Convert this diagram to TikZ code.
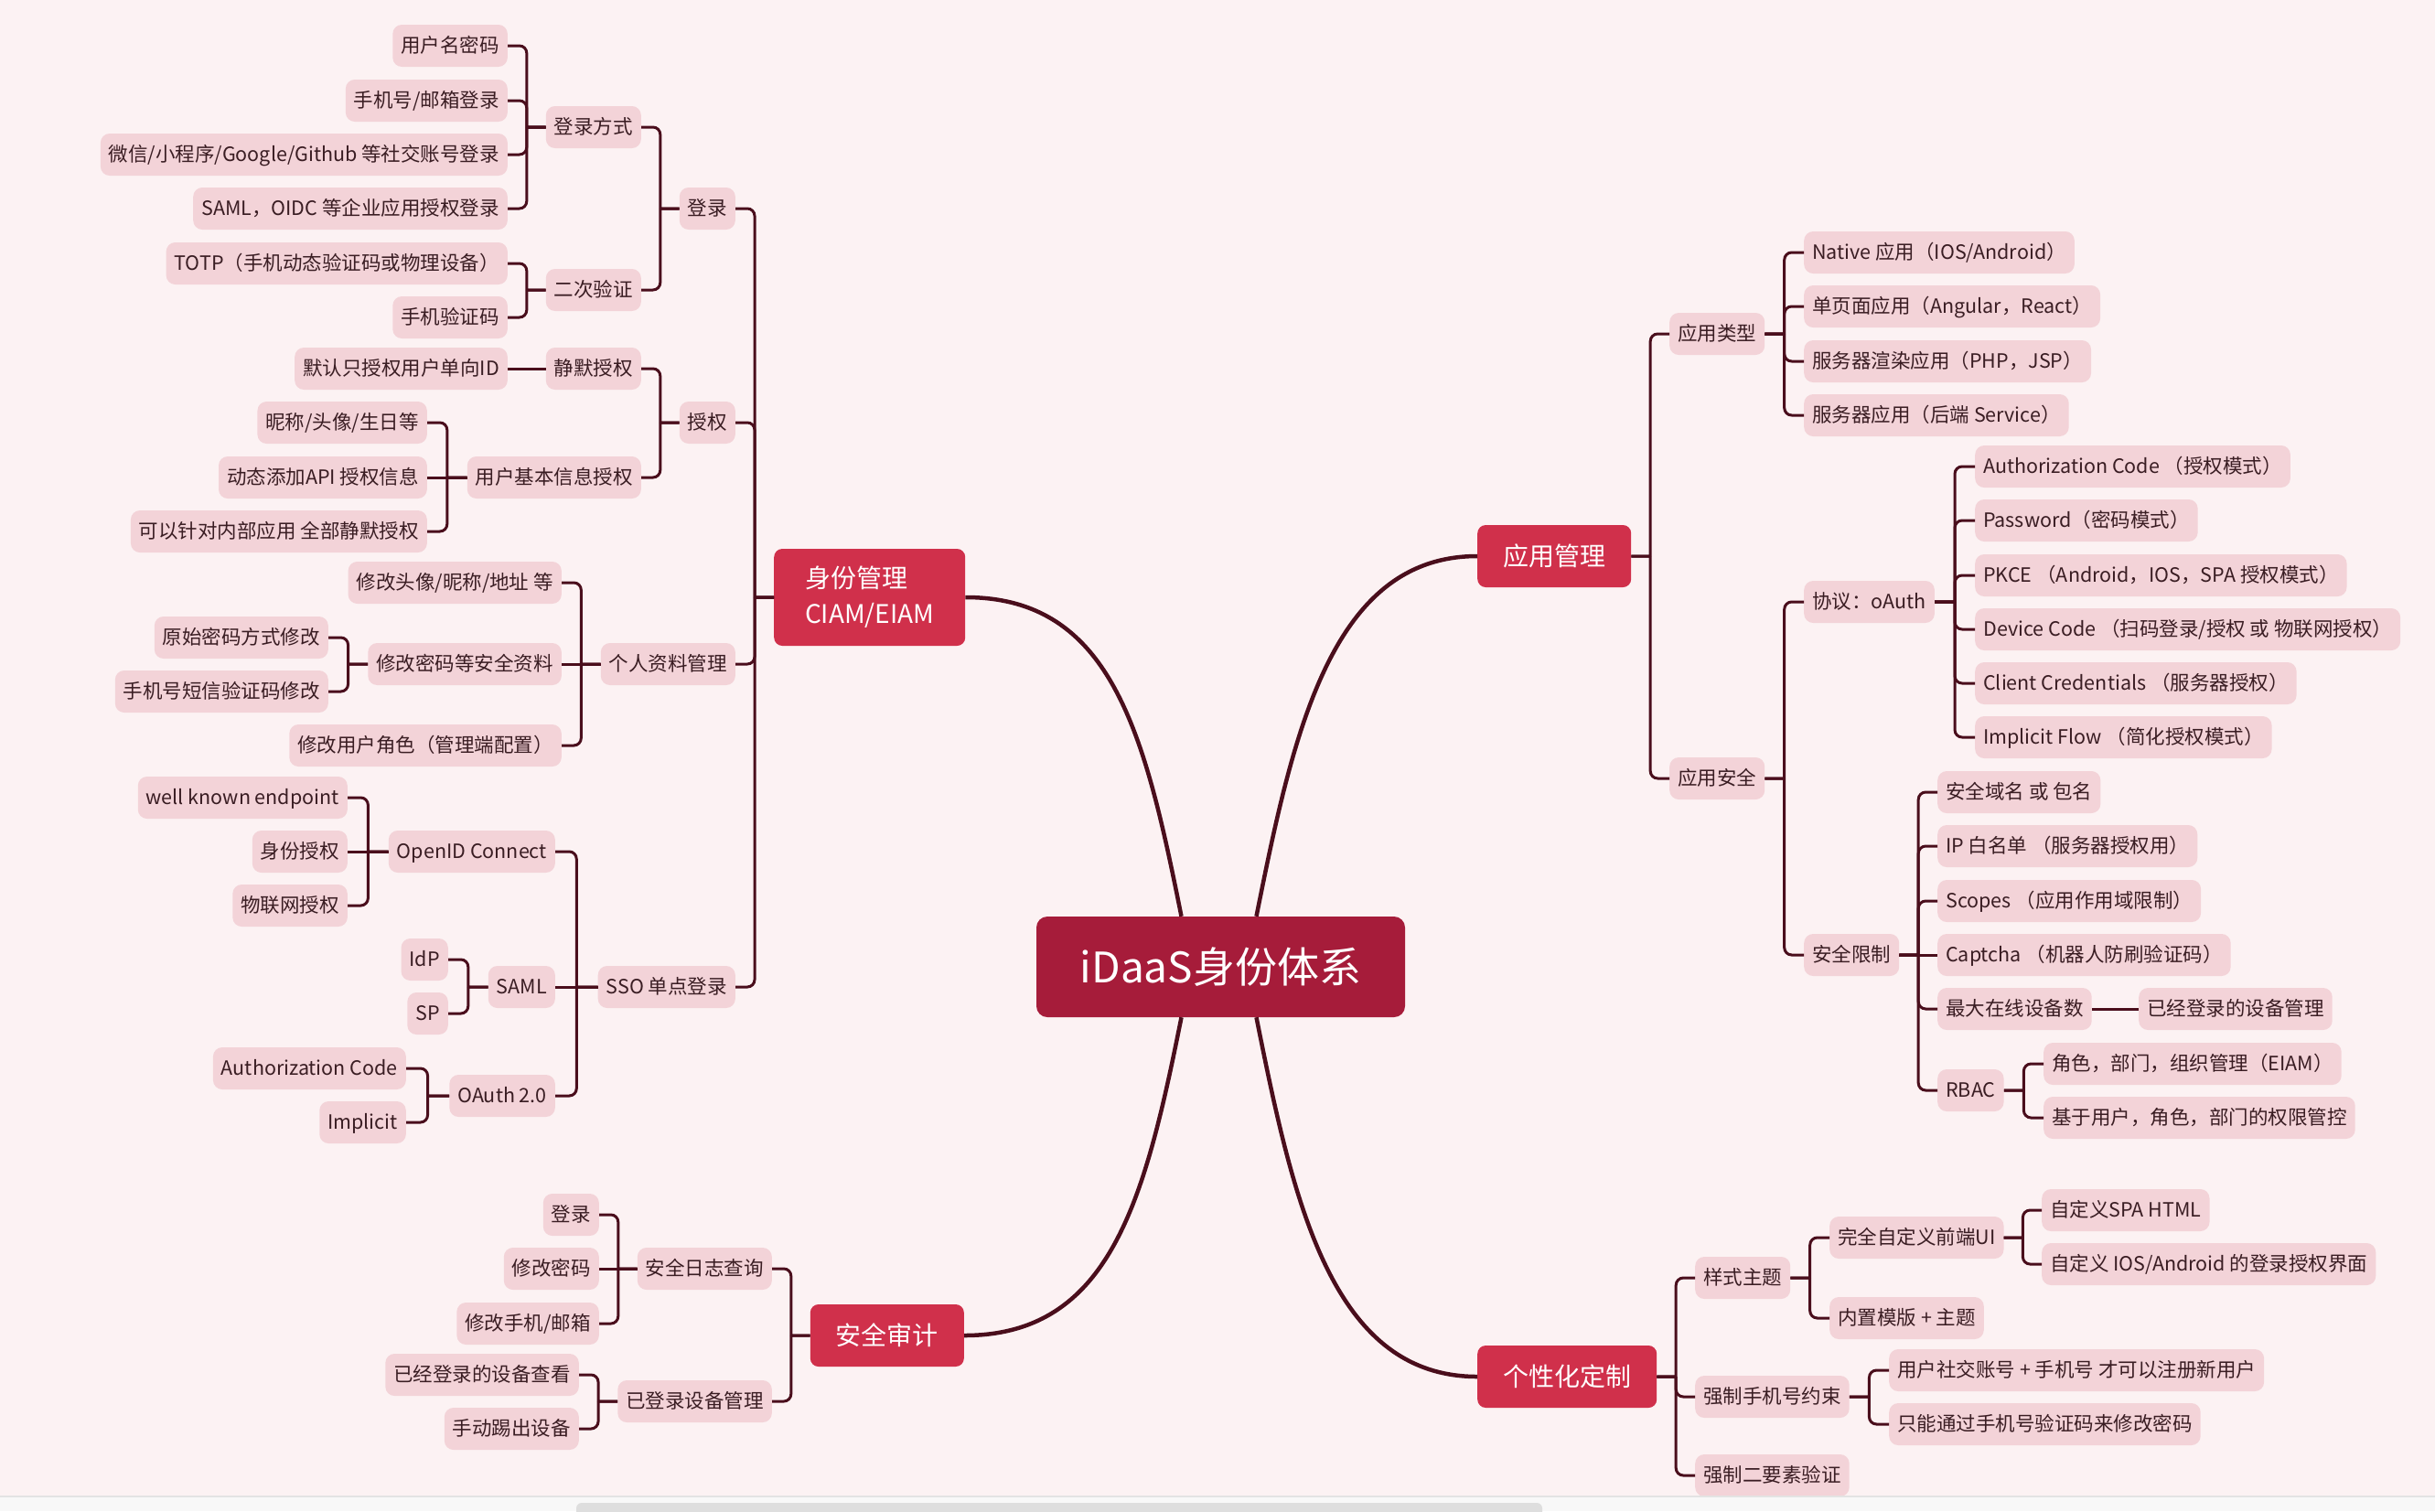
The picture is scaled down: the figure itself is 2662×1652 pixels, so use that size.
\documentclass[tikz,border=0pt]{standalone}
\usepackage{fontspec}
\setmainfont{Noto Sans CJK SC}
\usetikzlibrary{calc}

\definecolor{pagebg}{HTML}{FCF2F3}
\definecolor{leafpink}{HTML}{F3D3D8}
\definecolor{topicred}{HTML}{D0304B}
\definecolor{corered}{HTML}{A61C3A}
\definecolor{linedark}{HTML}{4A0E1C}
\definecolor{inkdark}{HTML}{3A1D23}
\definecolor{barbg}{HTML}{F8F8F8}
\definecolor{barline}{HTML}{E3E3E3}
\definecolor{barthumb}{HTML}{DEDEDE}

\tikzset{
  leaf/.style={fill=leafpink, text=inkdark, rounded corners=10pt,
    minimum height=46pt, inner xsep=9pt, inner ysep=2pt,
    text height=18.5pt, text depth=3.5pt,
    font=\fontsize{21.5}{26}\selectfont},
  lleaf/.style={leaf, anchor=east},
  rleaf/.style={leaf, anchor=west},
  topic/.style={fill=topicred, text=white, rounded corners=9pt,
    minimum height=68pt, inner xsep=28pt,
    font=\fontsize{28}{39}\selectfont},
  core/.style={fill=corered, text=white, rounded corners=12pt,
    minimum width=403pt, minimum height=110pt,
    font=\fontsize{46}{55}\selectfont},
  br/.style={draw=linedark, line width=3pt},
  bough/.style={draw=linedark, line width=4.5pt},
}

% branch going left: parent #1, child #2
\newcommand\lk[2]{\draw[br] let \p1=(#1.west), \p2=(#2.east) in
  (\p1) -- ({(\x1+\x2)/2},\y1) [rounded corners=8pt] ({(\x1+\x2)/2},\y1)
  -- ({(\x1+\x2)/2},\y2) -- (\p2);}
% branch going right: parent #1, child #2
\newcommand\rk[2]{\draw[br] let \p1=(#1.east), \p2=(#2.west) in
  (\p1) -- ({(\x1+\x2)/2},\y1) [rounded corners=8pt] ({(\x1+\x2)/2},\y1)
  -- ({(\x1+\x2)/2},\y2) -- (\p2);}

\begin{document}
\begin{tikzpicture}[x=1pt, y=-1pt]
  \useasboundingbox (0,0) rectangle (2662,1652);
  \fill[pagebg] (0,0) rectangle (2662,1652);

  % centre and the four topics
  \node[core] (core) at (1334.5,1057) {iDaaS身份体系};
  \node[topic, align=left, minimum width=209pt, minimum height=106pt, anchor=west] (id) at (846,653) {身份管理\\CIAM/EIAM};
  \node[topic, anchor=east] (aud) at (1054,1460) {安全审计};
  \node[topic, anchor=west] (app) at (1615,608) {应用管理};
  \node[topic, anchor=west] (ui) at (1615,1505) {个性化定制};

  % 1. 身份管理
  \node[lleaf] (login) at (804,228) {登录};
  \node[lleaf] (lway) at (701,139) {登录方式};
  \node[lleaf] (pwd) at (555,50) {用户名密码};
  \node[lleaf] (mail) at (555,110) {手机号/邮箱登录};
  \node[lleaf] (social) at (555,169) {微信/小程序/Google/Github 等社交账号登录};
  \node[lleaf] (ent) at (555,228) {SAML，OIDC 等企业应用授权登录};
  \node[lleaf] (mfa) at (701,317) {二次验证};
  \node[lleaf] (totp) at (555,288) {TOTP（手机动态验证码或物理设备）};
  \node[lleaf] (sms) at (555,347) {手机验证码};

  \node[lleaf] (auth) at (804,462) {授权};
  \node[lleaf] (silent) at (701,403) {静默授权};
  \node[lleaf] (uid) at (555,403) {默认只授权用户单向ID};
  \node[lleaf] (basic) at (701,522) {用户基本信息授权};
  \node[lleaf] (nick) at (467,462) {昵称/头像/生日等};
  \node[lleaf] (api) at (467,522) {动态添加API 授权信息};
  \node[lleaf] (inner) at (467,581) {可以针对内部应用 全部静默授权};

  \node[lleaf] (prof) at (804,726) {个人资料管理};
  \node[lleaf] (avatar) at (614,637) {修改头像/昵称/地址 等};
  \node[lleaf] (secu) at (614,726) {修改密码等安全资料};
  \node[lleaf] (oldpw) at (359,697) {原始密码方式修改};
  \node[lleaf] (smspw) at (359,756) {手机号短信验证码修改};
  \node[lleaf] (role) at (614,815) {修改用户角色（管理端配置）};

  \node[lleaf] (sso) at (804,1079) {SSO 单点登录};
  \node[lleaf] (oidc) at (607,931) {OpenID Connect};
  \node[lleaf] (wk) at (380,872) {well known endpoint};
  \node[lleaf] (idauth) at (380,931) {身份授权};
  \node[lleaf] (iot) at (380,990) {物联网授权};
  \node[lleaf] (saml) at (607,1079) {SAML};
  \node[lleaf] (idp) at (490,1049) {IdP};
  \node[lleaf] (sp) at (490,1108) {SP};
  \node[lleaf] (oauth) at (607,1198) {OAuth 2.0};
  \node[lleaf] (acode) at (444,1168) {Authorization Code};
  \node[lleaf] (impl) at (444,1227) {Implicit};

  % 2. 安全审计
  \node[lleaf] (log) at (844,1387) {安全日志查询};
  \node[lleaf] (alogin) at (655,1328) {登录};
  \node[lleaf] (achpw) at (655,1387) {修改密码};
  \node[lleaf] (amob) at (655,1447) {修改手机/邮箱};
  \node[lleaf] (dev) at (844,1532) {已登录设备管理};
  \node[lleaf] (dview) at (633,1503) {已经登录的设备查看};
  \node[lleaf] (kick) at (633,1562) {手动踢出设备};

  % 3. 应用管理
  \node[rleaf] (atype) at (1825,365) {应用类型};
  \node[rleaf] (nat) at (1972,276) {Native 应用（IOS/Android）};
  \node[rleaf] (spa) at (1972,335) {单页面应用（Angular，React）};
  \node[rleaf] (ssr) at (1972,395) {服务器渲染应用（PHP，JSP）};
  \node[rleaf] (svc) at (1972,454) {服务器应用（后端 Service）};
  \node[rleaf] (asec) at (1825,851) {应用安全};
  \node[rleaf] (proto) at (1972,658) {协议：oAuth};
  \node[rleaf] (g1) at (2159,510) {Authorization Code （授权模式）};
  \node[rleaf] (g2) at (2159,569) {Password（密码模式）};
  \node[rleaf] (g3) at (2159,629) {PKCE （Android，IOS，SPA 授权模式）};
  \node[rleaf] (g4) at (2159,688) {Device Code （扫码登录/授权 或 物联网授权）};
  \node[rleaf] (g5) at (2159,747) {Client Credentials （服务器授权）};
  \node[rleaf] (g6) at (2159,806) {Implicit Flow （简化授权模式）};
  \node[rleaf] (limit) at (1972,1044) {安全限制};
  \node[rleaf] (dom) at (2118,866) {安全域名 或 包名};
  \node[rleaf] (ip) at (2118,925) {IP 白名单 （服务器授权用）};
  \node[rleaf] (scope) at (2118,985) {Scopes （应用作用域限制）};
  \node[rleaf] (captcha) at (2118,1044) {Captcha （机器人防刷验证码）};
  \node[rleaf] (maxdev) at (2118,1103) {最大在线设备数};
  \node[rleaf] (devmgr) at (2338,1103) {已经登录的设备管理};
  \node[rleaf] (rbac) at (2118,1192) {RBAC};
  \node[rleaf] (org) at (2234,1163) {角色，部门，组织管理（EIAM）};
  \node[rleaf] (perm) at (2234,1222) {基于用户，角色，部门的权限管控};

  % 4. 个性化定制
  \node[rleaf] (style) at (1853,1397) {样式主题};
  \node[rleaf] (custom) at (2000,1353) {完全自定义前端UI};
  \node[rleaf] (cspa) at (2232,1323) {自定义SPA HTML};
  \node[rleaf] (cnat) at (2232,1382) {自定义 IOS/Android 的登录授权界面};
  \node[rleaf] (tpl) at (2000,1441) {内置模版 + 主题};
  \node[rleaf] (phone) at (1853,1527) {强制手机号约束};
  \node[rleaf] (reg) at (2065,1498) {用户社交账号 + 手机号 才可以注册新用户};
  \node[rleaf] (chpw) at (2065,1557) {只能通过手机号验证码来修改密码};
  \node[rleaf] (force2) at (1853,1613) {强制二要素验证};

  % main curves
  \draw[bough] ([xshift=-43pt]core.north) .. controls +(-40,-200) and +(160,0) .. (id.east);
  \draw[bough] ([xshift=-43pt]core.south) .. controls +(-40,200) and +(160,0) .. (aud.east);
  \draw[bough] ([xshift=39pt]core.north) .. controls +(40,-200) and +(-160,0) .. (app.west);
  \draw[bough] ([xshift=39pt]core.south) .. controls +(40,200) and +(-160,0) .. (ui.west);

  % branches, left
  \lk{id}{login} \lk{id}{auth} \lk{id}{prof} \lk{id}{sso}
  \lk{login}{lway} \lk{login}{mfa}
  \lk{lway}{pwd} \lk{lway}{mail} \lk{lway}{social} \lk{lway}{ent}
  \lk{mfa}{totp} \lk{mfa}{sms}
  \lk{auth}{silent} \lk{auth}{basic}
  \draw[br] (silent.west) -- (uid.east);
  \lk{basic}{nick} \lk{basic}{inner}
  \draw[br] (basic.west) -- (api.east);
  \lk{prof}{avatar} \lk{prof}{role}
  \draw[br] (prof.west) -- (secu.east);
  \lk{secu}{oldpw} \lk{secu}{smspw}
  \lk{sso}{oidc} \lk{sso}{oauth}
  \draw[br] (sso.west) -- (saml.east);
  \lk{oidc}{wk} \lk{oidc}{iot}
  \draw[br] (oidc.west) -- (idauth.east);
  \lk{saml}{idp} \lk{saml}{sp}
  \lk{oauth}{acode} \lk{oauth}{impl}
  \lk{aud}{log} \lk{aud}{dev}
  \lk{log}{alogin} \lk{log}{amob}
  \draw[br] (log.west) -- (achpw.east);
  \lk{dev}{dview} \lk{dev}{kick}

  % branches, right
  \rk{app}{atype} \rk{app}{asec}
  \rk{atype}{nat} \rk{atype}{spa} \rk{atype}{ssr} \rk{atype}{svc}
  \rk{asec}{proto} \rk{asec}{limit}
  \rk{proto}{g1} \rk{proto}{g2} \rk{proto}{g3} \rk{proto}{g4} \rk{proto}{g5} \rk{proto}{g6}
  \rk{limit}{dom} \rk{limit}{ip} \rk{limit}{scope} \rk{limit}{maxdev} \rk{limit}{rbac}
  \draw[br] (limit.east) -- (captcha.west);
  \draw[br] (maxdev.east) -- (devmgr.west);
  \rk{rbac}{org} \rk{rbac}{perm}
  \rk{ui}{style} \rk{ui}{phone} \rk{ui}{force2}
  \rk{style}{custom} \rk{style}{tpl}
  \rk{custom}{cspa} \rk{custom}{cnat}
  \rk{phone}{reg} \rk{phone}{chpw}

  % window bar at the bottom
  \fill[barbg] (0,1636) rectangle (2662,1652);
  \draw[barline, line width=1.5pt] (0,1636) -- (2662,1636);
  \fill[barthumb, rounded corners=6pt] (630,1643) rectangle (1686,1664);
\end{tikzpicture}
\end{document}
